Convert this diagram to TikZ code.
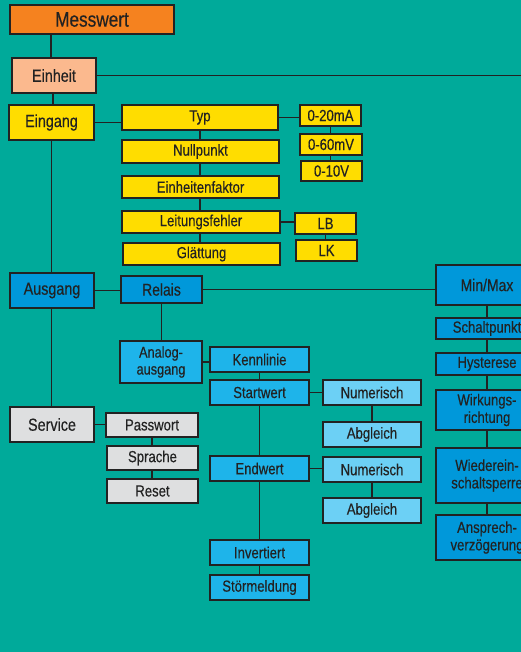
\documentclass[tikz,border=0pt]{standalone}
\usepackage{fontspec}
\setmainfont{Liberation Sans}[FakeStretch=0.82,FakeBold=0.4]
\usetikzlibrary{backgrounds}
\definecolor{bgc}{HTML}{00AA9A}
\definecolor{orng}{HTML}{F5821F}
\definecolor{peach}{HTML}{FBB98E}
\definecolor{yel}{HTML}{FFDD00}
\definecolor{dblue}{HTML}{0098DA}
\definecolor{mblue}{HTML}{1EB4EA}
\definecolor{lblue}{HTML}{6CD0F5}
\definecolor{gry}{HTML}{DEDFE0}
\definecolor{ink}{HTML}{222222}
\tikzset{
  bx/.style={draw=ink, line width=1.5pt, inner sep=0pt, text=ink, align=center,
    font=\fontsize{16}{17.5}\selectfont},
  big/.style={font=\fontsize{17.5}{20}\selectfont},
  con/.style={draw=ink, line width=1.2pt},
}
\begin{document}
\begin{tikzpicture}[x=1pt,y=-1pt]
\useasboundingbox (0,0) rectangle (521,652);
\clip (0,0) rectangle (521,652);
% top
\node[bx, fill=orng, minimum width=164pt, minimum height=29pt, font=\fontsize{21}{23}\selectfont] (messwert) at (92,19.5) {Messwert};
\node[bx, big, fill=peach, minimum width=84pt, minimum height=35pt] (einheit) at (54,75.5) {Einheit};
\coordinate (eR) at (521,75);
% Eingang
\node[bx, big, fill=yel, minimum width=85pt, minimum height=35pt] (eingang) at (51.5,122.5) {Eingang};
\node[bx, fill=yel, minimum width=156pt, minimum height=25pt] (typ) at (200,117.5) {Typ};
\node[bx, fill=yel, minimum width=157pt, minimum height=23pt] (nullp) at (200.5,151.5) {Nullpunkt};
\node[bx, fill=yel, minimum width=157pt, minimum height=22pt] (einhf) at (200.5,187) {Einheitenfaktor};
\node[bx, fill=yel, minimum width=158pt, minimum height=22pt] (leit) at (201,222) {Leitungsfehler};
\node[bx, fill=yel, minimum width=157pt, minimum height=22pt] (glatt) at (201.5,254) {Glättung};
\node[bx, fill=yel, minimum width=61pt, minimum height=21pt] (ma) at (330.5,115.5) {0-20mA};
\node[bx, fill=yel, minimum width=62pt, minimum height=21pt] (mv) at (331,144.5) {0-60mV};
\node[bx, fill=yel, minimum width=61pt, minimum height=20pt] (v10) at (331.5,171) {0-10V};
\node[bx, fill=yel, minimum width=61pt, minimum height=21pt] (lb) at (325.5,223.5) {LB};
\node[bx, fill=yel, minimum width=61pt, minimum height=21pt] (lk) at (326.5,250.5) {LK};
% Ausgang
\node[bx, big, fill=dblue, minimum width=84pt, minimum height=35pt] (ausgang) at (52,290.5) {Ausgang};
\node[bx, fill=dblue, minimum width=81pt, minimum height=27pt, font=\fontsize{17}{19}\selectfont] (relais) at (161.5,289.5) {Relais};
\node[bx, fill=dblue, minimum width=102pt, minimum height=40pt, font=\fontsize{17}{19}\selectfont] (minmax) at (487,285) {Min/Max};
\node[bx, fill=dblue, minimum width=102pt, minimum height=21pt] (schalt) at (487,328.5) {Schaltpunkt};
\node[bx, fill=dblue, minimum width=102pt, minimum height=22pt] (hyst) at (487,364) {Hysterese};
\node[bx, fill=dblue, minimum width=102pt, minimum height=40pt] (wirk) at (487,410) {Wirkungs-\\richtung};
\node[bx, fill=dblue, minimum width=102pt, minimum height=55pt] (wieder) at (487,475.5) {Wiederein-\\schaltsperre};
\node[bx, fill=dblue, minimum width=102pt, minimum height=45pt] (anspr) at (487,537.5) {Ansprech-\\verzögerung};
\node[bx, fill=mblue, minimum width=82pt, minimum height=42pt, font=\fontsize{15.5}{17}\selectfont] (analog) at (161,362) {Analog-\\ausgang};
\node[bx, fill=mblue, minimum width=99pt, minimum height=25pt] (kenn) at (259.5,359.5) {Kennlinie};
\node[bx, fill=mblue, minimum width=99pt, minimum height=25pt] (start) at (259.5,392.5) {Startwert};
\node[bx, fill=mblue, minimum width=99pt, minimum height=25pt] (endw) at (259.5,468.5) {Endwert};
\node[bx, fill=mblue, minimum width=99pt, minimum height=25pt] (inv) at (259.5,552.5) {Invertiert};
\node[bx, fill=mblue, minimum width=99pt, minimum height=25pt] (stoer) at (259.5,587.5) {Störmeldung};
\node[bx, fill=lblue, minimum width=98pt, minimum height=25pt] (num1) at (372,392.5) {Numerisch};
\node[bx, fill=lblue, minimum width=98pt, minimum height=25pt] (abg1) at (372,434.5) {Abgleich};
\node[bx, fill=lblue, minimum width=98pt, minimum height=25pt] (num2) at (372,469.5) {Numerisch};
\node[bx, fill=lblue, minimum width=98pt, minimum height=25pt] (abg2) at (372,510.5) {Abgleich};
% Service
\node[bx, big, fill=gry, minimum width=84pt, minimum height=35pt] (service) at (52,424.5) {Service};
\node[bx, fill=gry, minimum width=92pt, minimum height=24pt] (pass) at (152,425) {Passwort};
\node[bx, fill=gry, minimum width=91pt, minimum height=24pt] (spr) at (152.5,458) {Sprache};
\node[bx, fill=gry, minimum width=91pt, minimum height=24pt] (reset) at (152.5,491) {Reset};
\begin{pgfonlayer}{background}
\fill[bgc] (0,0) rectangle (521,652);
\coordinate (c1) at (51,0);
\coordinate (c2) at (53,0);
\draw[con] (messwert.south -| c1) -- (einheit.north -| c1);
\draw[con] (einheit.south -| c2) -- (eingang.north -| c2);
\draw[con] (einheit.east) -- (einheit.east -| eR);
\draw[con] (eingang.center) -- (eingang.center -| typ.center);
\draw[con] (typ.center) -- (typ.center |- glatt.center);
\draw[con] (typ.center) -- (typ.center -| ma.center);
\draw[con] (ma.center) -- (ma.center |- v10.center);
\draw[con] (leit.center) -- (leit.center -| lb.center);
\draw[con] (lb.center) -- (lb.center |- lk.center);
\draw[con] (eingang.center) -- (eingang.center |- service.center);
\draw[con] (ausgang.center) -- (ausgang.center -| relais.center);
\draw[con] (relais.center) -- (relais.center -| minmax.center);
\draw[con] (minmax.center) -- (anspr.center);
\draw[con] (relais.center) -- (relais.center |- analog.center);
\draw[con] (analog.center) -- (analog.center -| kenn.center);
\draw[con] (kenn.center) -- (stoer.center);
\draw[con] (start.center) -- (num1.center);
\draw[con] (num1.center) -- (abg1.center);
\draw[con] (endw.center) -- (endw.center -| num2.center);
\draw[con] (num2.center) -- (abg2.center);
\draw[con] (service.center) -- (service.center -| pass.center);
\draw[con] (pass.center) -- (pass.center |- reset.center);
\end{pgfonlayer}
\end{tikzpicture}
\end{document}
